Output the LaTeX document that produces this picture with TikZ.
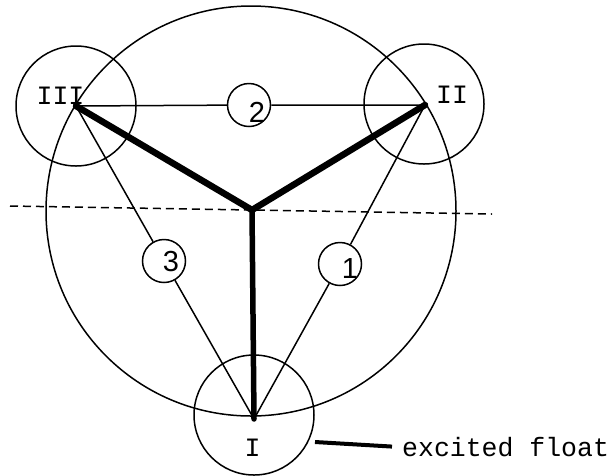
\documentclass[tikz,border=0pt]{standalone}
\usepackage{fontspec}
\newfontfamily\monof{Liberation Mono}
\newfontfamily\sansf{Liberation Sans}
\begin{document}
\begin{tikzpicture}[x=1pt,y=-1pt,
  thinline/.style={line width=1.5pt},
  ringc/.style={circle,draw,line width=1.5pt,inner sep=0pt},
  bigring/.style={ringc,minimum size=410pt},
  vring/.style={ringc,minimum size=120pt},
  smallring/.style={ringc,minimum size=43pt},
  boldline/.style={line width=6.5pt,line cap=round},
  digit/.style={font=\sansf\fontsize{29}{32}\selectfont,inner sep=0pt},
  roman/.style={font=\monof\fontsize{26.5}{30}\selectfont,inner sep=0pt},
  axis/.style={line width=1.5pt,dash pattern=on 8pt off 5pt}]
\useasboundingbox (0,0) rectangle (615,475);
% vertices and junction
\coordinate (vI) at (254,419);
\coordinate (vII) at (425,105);
\coordinate (vIII) at (76,106);
\coordinate (J) at (252,210);
% circles
\node[bigring] (C) at (251,211) {};
\node[vring] (rI) at (254,415) {};
\node[vring] (rII) at (424,104) {};
\node[vring] (rIII) at (76,106) {};
% small circles on the edges
\node[smallring] (c2) at (249,105) {};
\node[smallring] (c3) at (164,261) {};
\node[smallring] (c1) at (340,264) {};
% thin triangle edges
\draw[thinline] (vIII) -- (c2) -- (vII);
\draw[thinline] (vIII) -- (c3) -- (vI);
\draw[thinline] (vII) -- (c1) -- (vI);
% dashed horizontal
\coordinate (dA) at (10,206);
\coordinate (dB) at (492,214);
\draw[axis] (dA) -- (dB);
% digits
\node[digit] (d2) at (257,112) {2};
\node[digit] (d3) at (171,262) {3};
\node[digit] (d1) at (350,269) {1};
% thick Y
\draw[boldline,line join=miter] (vIII) -- (J) -- (vII);
\draw[boldline,line width=5.5pt] (J) -- (vI);
% labels
\node[roman] (lIII) at (60.5,95.5) {III};
\node[roman] (lII) at (452,95) {II};
\node[roman] (lI) at (252.5,447.5) {I};
% excited float
\node[roman,anchor=base west] (ef) at (402,456) {excited float};
\coordinate (ea) at (315,442);
\draw[line width=4pt] (ea) -- ([xshift=-10pt]ef.west);
\end{tikzpicture}
\end{document}
